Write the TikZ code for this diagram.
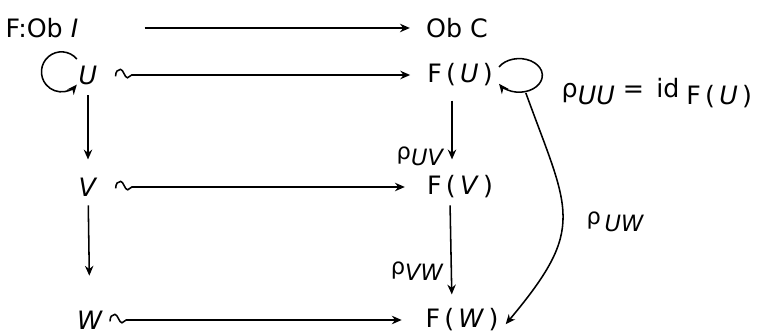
\documentclass[tikz,border=0pt]{standalone}
\usepackage{fontspec}
\setmainfont{DejaVu Sans}
\usetikzlibrary{arrows.meta,positioning}
\newcommand{\dn}[1]{\raisebox{-0.5ex}{#1}}
\tikzset{
  obj/.style={font=\fontsize{18}{21}\selectfont,inner sep=2pt},
  lbl/.style={font=\fontsize{16}{19}\selectfont,inner sep=1pt},
  mapto/.style={->,line width=1.1pt},
  tail/.style={mapto,to path={(\tikztostart) .. controls +(0pt,3.5pt) and +(-2pt,0pt) .. ++(3.5pt,5pt)
      .. controls +(2pt,0pt) and +(-2pt,0pt) .. ++(5pt,-6pt)
      .. controls +(1.5pt,0pt) and +(-1.5pt,0pt) .. ++(3pt,2pt) -- (\tikztotarget) \tikztonodes}}
}

\begin{document}
\begin{tikzpicture}[x=0.025cm,y=0.025cm,>={Stealth[length=7pt,width=6pt]}]
  \useasboundingbox (0,0) rectangle (763,335);
  % objects
  \node[obj] (obI) at (42,307) {F:Ob \textit{I}};
  \node[obj] (obC) at (457,307) {Ob C};
  \node[obj] (u) at (88,260) {\textit{U}};
  \node[obj] (fu) at (460,260) {F\,(\,\textit{U}\,)};
  \node[obj] (v) at (88,148) {\textit{V}};
  \node[obj] (fv) at (460,148) {F\,(\,\textit{V}\,)};
  \node[obj] (w) at (90,15) {\textit{W}};
  \node[obj] (fw) at (462,15) {F\,(\,\textit{W}\,)};
  % the functor on objects
  \draw[mapto,shorten <=1.58cm,shorten >=0.33cm] (obI) -- (obC);
  \draw[tail,shorten >=0.35cm] ([xshift=0.38cm,yshift=-1pt]u.east) to (fu.west);
  \draw[tail,shorten >=0.48cm] ([xshift=0.38cm,yshift=-1pt]v.east) to (fv.west);
  \draw[tail,shorten >=0.52cm] ([xshift=0.1cm,yshift=-1pt]w.east) to (fw.west);
  % arrows of I
  \draw[mapto] ([shift={(-0.28cm,0.4cm)}]u.center) arc[start angle=40,end angle=320,radius=0.5cm];
  \draw[mapto,shorten <=0.2cm,shorten >=0.38cm] (u) -- (v);
  \draw[mapto,shorten <=0.15cm,shorten >=0.8cm] (v) -- (w);
  % restrictions
  \draw[mapto] ([shift={(0.08cm,0.2cm)}]fu.east) arc[start angle=150,end angle=-150,x radius=0.58cm,y radius=0.42cm];
  \node[lbl,font=\fontsize{18}{21}\selectfont,anchor=base west] (rhoUU) at (560,237) {ρ\dn{\textit{UU}} = \,id\;\dn{F\,(\,\textit{U}\,)}};
  \draw[mapto,shorten <=0.28cm,shorten >=0.33cm] ([xshift=-0.2cm]fu.south) -- node[lbl,left=4pt,pos=0.8] (rhoUV) {ρ\dn{\textit{UV}}} ([xshift=-0.2cm]fv.north);
  \draw[mapto,shorten <=0.1cm,shorten >=0.28cm] ([xshift=-0.25cm]fv.south) -- node[lbl,left=4pt,pos=0.67] (rhoVW) {ρ\dn{\textit{VW}}} ([xshift=-0.25cm]fw.north);
  \draw[mapto] ([shift={(0.75cm,-0.45cm)}]fu.east) to[out=-70,in=50,looseness=1.4] ([shift={(3pt,-3pt)}]fw.east);
  \node[lbl,anchor=base west] (rhoUW) at (585,110) {ρ\,\dn{\textit{UW}}};
\end{tikzpicture}
\end{document}
